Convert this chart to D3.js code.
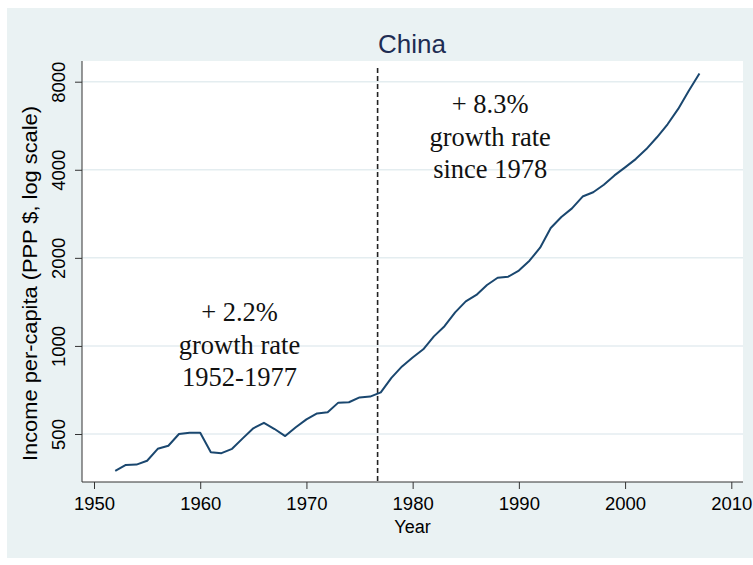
<!DOCTYPE html>
<html>
<head>
<meta charset="utf-8">
<script src="https://cdn.jsdelivr.net/npm/d3@7"></script>
<style>
  body { margin: 0; background: #fff; }
  svg { display: block; }
</style>
</head>
<body>
<svg id="chart" width="753" height="565"></svg>
<script>
// data
const years = [
  1952, 1953, 1954, 1955, 1956, 1957, 1958, 1959, 1960, 1961,
  1962, 1963, 1964, 1965, 1966, 1967, 1968, 1969, 1970, 1971,
  1972, 1973, 1974, 1975, 1976, 1977, 1978, 1979, 1980, 1981,
  1982, 1983, 1984, 1985, 1986, 1987, 1988, 1989, 1990, 1991,
  1992, 1993, 1994, 1995, 1996, 1997, 1998, 1999, 2000, 2001,
  2002, 2003, 2004, 2005, 2006, 2007
];
const income = [
  374, 392, 393, 405, 445, 456, 500, 505, 505, 433,
  430, 445, 483, 523, 546, 520, 492, 527, 561, 588,
  593, 640, 642, 667, 671, 694, 778, 851, 913, 974,
  1078, 1168, 1302, 1420, 1494, 1615, 1710, 1725, 1810, 1955,
  2167, 2529, 2757, 2952, 3240, 3351, 3556, 3827, 4076, 4351,
  4707, 5166, 5722, 6458, 7454, 8540
];
const xTicks = [1950, 1960, 1970, 1980, 1990, 2000, 2010];
const yTicks = [500, 1000, 2000, 4000, 8000];
const breakYear = 1976.7;
const notes = [
  { year: 1963.7, value: 1000, lines: ["+ 2.2%", "growth rate", "1952-1977"] },
  { year: 1987.3, value: 5150, lines: ["+ 8.3%", "growth rate", "since 1978"] }
];

const svg = d3.select("#chart");
const sans = "'Liberation Sans', Arial, Helvetica, sans-serif";
const serif = "'Liberation Serif', 'Times New Roman', Times, serif";

// plot region
const plot = { left: 82, right: 743, top: 61, bottom: 482 };

const x = d3.scaleLinear().domain([1950, 2010]).range([94, 731.3]);
const y = d3.scaleLog().domain([500, 8000]).range([434, 81.7]);

// outer background
svg.append("rect")
  .attr("x", 7).attr("y", 8)
  .attr("width", 746).attr("height", 550)
  .attr("fill", "#eaf2f3");

svg.append("rect")
  .attr("x", plot.left).attr("y", plot.top)
  .attr("width", plot.right - plot.left).attr("height", plot.bottom - plot.top)
  .attr("fill", "#fff");

// grid lines
svg.append("g")
  .selectAll("line")
  .data(yTicks)
  .join("line")
  .attr("x1", plot.left).attr("x2", plot.right)
  .attr("y1", d => y(d)).attr("y2", d => y(d))
  .attr("stroke", "#e4edf0")
  .attr("stroke-width", 1.5);

// axes
const xAxis = d3.axisBottom(x).tickValues(xTicks).tickSize(7).tickPadding(8).tickFormat(d3.format("d"));
const yAxis = d3.axisLeft(y).tickValues(yTicks).tickSize(7).tickFormat(d3.format("d"));

const gx = svg.append("g")
  .attr("transform", `translate(0,${plot.bottom})`)
  .call(xAxis);
gx.select(".domain").remove();
gx.selectAll("line").attr("stroke", "#333");
gx.selectAll("text")
  .attr("font-family", sans).attr("font-size", 18.5).attr("fill", "#000");

const gy = svg.append("g")
  .attr("transform", `translate(${plot.left},0)`)
  .call(yAxis);
gy.select(".domain").remove();
gy.selectAll("line").attr("stroke", "#333");
gy.selectAll("text")
  .attr("font-family", sans).attr("font-size", 18.5).attr("fill", "#000")
  .attr("text-anchor", "middle")
  .attr("x", null).attr("dy", null)
  .attr("transform", "translate(-17,0) rotate(-90)");

// axis lines
svg.append("line")
  .attr("x1", plot.left).attr("x2", plot.left)
  .attr("y1", plot.top).attr("y2", plot.bottom)
  .attr("stroke", "#333");
svg.append("line")
  .attr("x1", plot.left).attr("x2", plot.right)
  .attr("y1", plot.bottom).attr("y2", plot.bottom)
  .attr("stroke", "#333");

// axis titles
svg.append("text")
  .attr("x", (plot.left + plot.right) / 2).attr("y", 533)
  .attr("text-anchor", "middle")
  .attr("font-family", sans).attr("font-size", 18)
  .text("Year");

svg.append("text")
  .attr("transform", `translate(37,${(plot.top + plot.bottom) / 2 + 12}) rotate(-90)`)
  .attr("text-anchor", "middle")
  .attr("font-family", sans).attr("font-size", 20)
  .attr("textLength", 355)
  .attr("lengthAdjust", "spacingAndGlyphs")
  .text("Income per-capita (PPP $, log scale)");

// title
svg.append("text")
  .attr("x", 412).attr("y", 53)
  .attr("text-anchor", "middle")
  .attr("font-family", sans).attr("font-size", 26)
  .attr("fill", "#1e2d53")
  .text("China");

// break line
svg.append("line")
  .attr("x1", x(breakYear)).attr("x2", x(breakYear))
  .attr("y1", plot.top + 7).attr("y2", plot.bottom)
  .attr("stroke", "#222")
  .attr("stroke-width", 1.6)
  .attr("stroke-dasharray", "5,3");

// income line
const line = d3.line()
  .x((d, i) => x(years[i]))
  .y(d => y(d));

svg.append("path")
  .datum(income)
  .attr("d", line)
  .attr("fill", "none")
  .attr("stroke", "#1a476f")
  .attr("stroke-width", 2)
  .attr("stroke-linejoin", "round");

// annotations
notes.forEach(n => {
  const t = svg.append("text")
    .attr("text-anchor", "middle")
    .attr("font-family", serif)
    .attr("font-size", 26.5)
    .attr("fill", "#111");
  n.lines.forEach((s, i) => {
    t.append("tspan")
      .attr("x", x(n.year))
      .attr("y", y(n.value) + 8 + (i - 1) * 32.5)
      .text(s);
  });
});
</script>
</body>
</html>
